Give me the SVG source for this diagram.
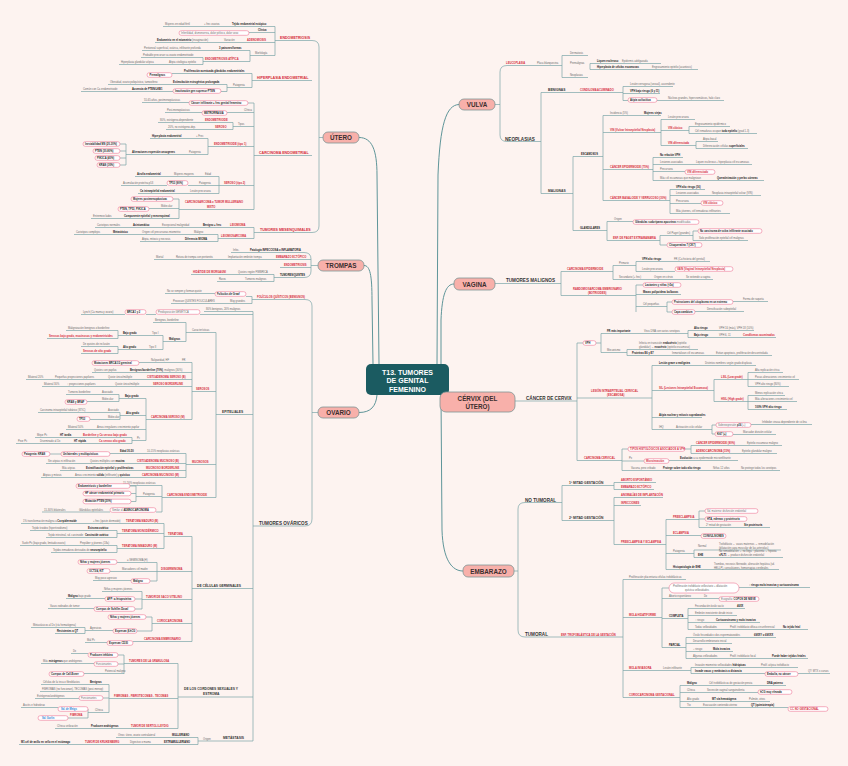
<svg xmlns="http://www.w3.org/2000/svg" width="848" height="766" viewBox="0 0 848 766">
<style>
text{font-family:"Liberation Sans",Arial,sans-serif;font-size:2.6px;fill:#6a6a6a;dominant-baseline:central}
.k{font-weight:bold;fill:#222}
.r{font-weight:bold;fill:#d52b3b;font-size:2.7px}
.R{font-weight:bold;fill:#d52b3b;font-size:3.6px}
.h{font-weight:bold;fill:#333;font-size:4.6px}
.h2{font-weight:bold;fill:#333;font-size:3.3px}
.bl{font-weight:bold;fill:#2f86d6}
.bx{fill:#fff;stroke:#ef7a99;stroke-width:0.6}
.ln{fill:none;stroke:#7aa5a8;stroke-width:0.7}
.lm{fill:none;stroke:#5f9599;stroke-width:1}
.mn{fill:#f8b0aa;stroke:#7d9494;stroke-width:0.8}
.mt{font-weight:bold;font-size:6.3px;fill:#3b2e2e;text-anchor:middle}
.ct{font-weight:bold;font-size:7px;fill:#fff;text-anchor:middle}
</style>
<rect width="848" height="766" fill="#fdf3f0"/>
<g id="connectors">
<path class="lm" d="M359,137.5C372,137.5 377,150 377,175L379,364M364,265.5C370,265.5 372,275 372,300L373,364M359,412.5C371,412.5 376,406 377,395M459,104.5C446,105 440,125 438,175L437,364M454,284C446,284 442,295 441,320L441,364M441,395L442,530C443,560 452,571 463,571"/>
<path class="ln" d="M323,137.5H319M312,40.5Q319,40.5 319,47V226Q319,232.5 312,232.5M275,40.5H312M275,26.5V55.5M163,26.5H275M249,32.5H275M155,42.5H275M250,55.5H275M250,50.5V61.5M142,50.5H250M203,61.5H250M203,57.5V64.5M141,57.5H203M119,64.5H203M252,80.5H312M252,73.5V87.5M172,73.5H252M227,87.5H252M227,84.5V91.5M108,84.5H227M81,91.5H173M221,91.5H227M254,155.5H312M254,103V209.5M142,102.5H189M248,103H254M165,112.5H202M227,112.5H254M233,126.5H254M233,122.5V129.5M158,122.5H233M166,129.5H233M208,146.5H254M208,138.5V154.5M150,138.5H208M126,154.5H208M126,144V165M120,144H126M120,151H126M120,158H126M120,165H126M219,185.5H254M219,176.5V193.5M135,176.5H219M121,185.5H167M188,185.5H219M138,193.5H219M179,209.5H254M179,199V218.5M173,199H179M149,208.5H179M91,218.5H179M254,232.5H312M254,227.5V238.5M95,227.5H254M218,238.5H254M218,234.5V241.5M74,234.5H218M140,241.5H218"/>
<path class="ln" d="M318,265.5H311M304,252.5Q311,252.5 311,259V271Q311,277.5 304,277.5M231,252.5H304M154,259.5H311M280,267.5H311M274,277.5H304M274,274.5V281.5M191,274.5H274M217,281.5H274"/>
<path class="ln" d="M318,412.5H312M305,299.5Q312,299.5 312,306V519Q312,526 305,526M252,299.5H305M252,296.5V303.5M165,293.5H215M246,296.5H252M171,303.5H252M253,526H305M253,311.5V741M204,311.5H253M81,314.5H125M146,314.5H156M200,314.5H253M216,414.5H253M216,332.5V497.5M186,332.5H216M186,322.5V341.5M153,322.5H186M163,341.5H186M163,335.5V349.5M118,335.5H163M118,330.5V338.5M66,330.5H118M47,338.5H118M118,349.5H163M118,346.5V353.5M81,346.5H118M81,353.5H118M192,391.5H216M192,362.5V419.5M139,362.5H192M92,372.5H192M26,379.5H192M42,386.5H192M146,419.5H192M146,398.5V440.5M119,398.5H146M119,394.5V401.5M66,394.5H119M87,401.5H119M120,415.5H146M120,412.5V419.5M38,412.5H120M90,419.5H120M66,429.5H146M132,440.5H146M132,437.5V443.5M35,437.5H132M16,443.5H132M186,464.5H216M186,453.5V477.5M110,453.5H186M50,454H61M46,463.5H186M60,470.5H186M41,477.5H186M162,497.5H216M162,485.5V512M121,485.5H162M136,496.5H162M136,486V501.5M130,486H136M131,493.5H136M131,501.5H136M42,512H110M156,512H162M192,588.5H253M192,536.5V641.5M164,536.5H192M164,523.5V548.5M21,523.5H164M117,533.5H164M117,530.5V537.5M30,530.5H117M46,537.5H117M117,548.5H164M117,545.5V552.5M20,545.5H117M51,552.5H117M157,571.5H192M157,562.5V581M117,562.5H157M110,571.5H157M150,581H157M93,580.5H131M142,599.5H192M142,591.5V609M102,591.5H142M135,599H142M66,598.5H105M135,609H142M48,608.5H94M152,623.5H192M152,617V631M146,617H152M137,631H152M85,630.5H113M85,627.5V633.5M31,627.5H85M55,633.5H85M133,641.5H192M85,642.5H107M178,697H253M178,663.5V728.5M124,663.5H178M124,655V674M118,655H124M71,653.5H88M118,664H124M41,663.5H94M84,673.5H124M109,698.5H178M109,684.5V712.5M41,684.5H109M40,691.5H109M103,698H109M35,698.5H79M88,712.5H109M88,709V718M21,707.5H58M68,718H88M55,728.5H178M198,741H253M198,737.5V744.5M116,737.5H198M19,744.5H198"/>
<path class="ln" d="M495,104.5H500M507,65.5Q500,65.5 500,72V135Q500,141.5 507,141.5M507,65.5H562M562,55.5V77.5M562,55.5H588M590,63.5V69.5M590,63.5H661M590,69.5H698M562,77.5H588M507,141.5H541M541,92.5V193.5M541,92.5H623M623,86.5V100.5M623,86.5H673M623,93.5H660M623,100.5H628M657,100.5H724M541,193.5H573M573,156.5V230.5M573,156.5H603M603,115.5V200.5M603,115.5H661M603,132.5H661M661,119.5V145.5M661,119.5H695M661,130.5H689M689,126.5V133.5M689,126.5H730M689,133.5H757M661,145.5H696M696,141.5V148.5M696,141.5H718M696,148.5H748M603,169.5H653M653,157.5V180.5M653,157.5H683M653,164.5H752M653,171.5H685M653,180.5H764M603,200.5H670M670,189.5V213.5M670,189.5H705M670,195.5H761M670,203.5H701M670,213.5H730M573,230.5H607M607,221.5V240.5M607,221.5H633M607,240.5H660M660,235.5V245M660,235.5H693M693,231V240.5M693,231H698M693,240.5H748M660,245H667"/>
<path class="ln" d="M495,283.5H561M561,271.5V295.5M561,271.5H613M613,265.5V279.5M613,265.5H636M636,261.5V271.5M636,261.5H710M636,271.5H675M613,279.5H713M561,295.5H636M636,285V312M636,285H643M636,294.5H681M636,306.5H667M667,302V312M667,302H672M733,301.5H768M667,312H672M695,311.5H744"/>
<path class="ln" d="M515,401H577M577,343V460.5M577,343H583M596,343H601M601,333.5V352.5M601,333.5H688M688,330.5V337.5M688,330.5H754M688,337.5H776M601,352.5H627M627,349.5V355.5M627,349.5H698M627,355.5H772M577,398H652M652,365.5V429.5M652,365.5H756M652,390.5H714M714,379.5V401.5M714,379.5H748M748,372.5V386.5M748,372.5H783M748,379.5H799M748,386.5H789M714,401.5H748M748,395.5V409.5M748,395.5H785M748,401.5H797M748,409.5H787M652,417.5H702M652,429.5H712M712,425V434M712,425H716M751,424.5H812M712,434H715M733,434.5H776M577,460.5H622M622,449V470.5M622,449H628M685,449H691M691,445.5V453.5M691,445.5H782M691,453.5H777M622,461H644M669,460.5H738M622,470.5H780"/>
<path class="ln" d="M514,571H518M525,502.5Q518,502.5 518,509V630Q518,637 525,637M525,502.5H562M562,485.5V520.5M562,485.5H614M614,482.5V489.5M614,482.5H656M614,489.5H654M562,520.5H614M614,497.5V544.5M614,497.5H663M614,505.5H641M614,544.5H666M666,519.5V569.5M666,519.5H699M699,511V527.5M699,511H705M699,519H705M699,527.5H770M666,535.5H701M666,553.5H694M694,550V557.5M694,550H781M694,557.5H783M666,569.5H779M525,637H623M623,579.5V697.5M623,579.5H686M623,617.5H662M662,588V647.5M662,588H669M739,587.5H810M662,598.5H719M662,618.5H688M688,608.5V629.5M688,608.5H745M688,615.5H737M688,622.5H760M688,629.5H808M662,647.5H686M686,637.5V658.5M686,637.5H776M686,643.5H732M686,651.5H733M686,658.5H808M623,670.5H691M691,667.5V673.5M691,667.5H798M691,673.5H765M798,673.5H830M623,697.5H680M680,685.5V707.5M680,685.5H786M680,692.5H758M680,701.5H770M680,707.5H788"/>
</g>
<g id="center"><rect x="366" y="364" width="83" height="31" rx="5" fill="#1b5b61"/><text class="ct" x="407.5" y="372">T13. TUMORES</text><text class="ct" x="407.5" y="380.5">DE GENITAL</text><text class="ct" x="407.5" y="389">FEMENINO</text></g>
<g id="n-utero"><rect class="mn" x="323" y="132" width="36" height="11" rx="5"/><text class="mt" x="341" y="137.8">ÚTERO</text></g>
<g id="n-trompas"><rect class="mn" x="318" y="260" width="46" height="11" rx="5"/><text class="mt" x="341" y="265.8">TROMPAS</text></g>
<g id="n-ovario"><rect class="mn" x="318" y="407" width="41" height="11" rx="5"/><text class="mt" x="338.5" y="412.8">OVARIO</text></g>
<g id="n-vulva"><rect class="mn" x="459" y="99" width="36" height="11" rx="5"/><text class="mt" x="477" y="104.8">VULVA</text></g>
<g id="n-vagina"><rect class="mn" x="454" y="278" width="41" height="12" rx="5"/><text class="mt" x="474.5" y="284.3">VAGINA</text></g>
<g id="n-cervix"><rect class="mn" x="440" y="392" width="75" height="20" rx="6"/><text class="mt" x="477.5" y="398.3">CÉRVIX (DEL</text><text class="mt" x="477.5" y="406.3">ÚTERO)</text></g>
<g id="n-embarazo"><rect class="mn" x="463" y="565" width="51" height="12" rx="5"/><text class="mt" x="488.5" y="571.3">EMBARAZO</text></g>
<g id="b-utero">
<text class="R" x="280" y="38">ENDOMETRIOSIS</text>
<text x="165" y="24">Mujeres en edad fértil</text><text x="204" y="24">+ frec ovarios</text><text class="k" x="232" y="24">Tejido endometrial ectópico</text>
<text class="k" x="258" y="30">Clínica</text>
<rect class="bx" x="179" y="30.7" width="70" height="4.6" rx="2.3"/><text x="181" y="33">Infertilidad, dismenorrea, dolor pélvico, dolor sexo</text>
<text x="157" y="40"><tspan class="k">Endometrio en el miometrio</tspan> (invaginación)</text><text x="224" y="40">Variación</text><text class="r" x="247" y="40">ADENOMIOSIS</text>
<text x="144" y="48">Peritoneal superficial, ovárica, infiltrante profunda</text><text class="k" x="219" y="48">3 patrones/formas</text>
<text x="255" y="53">Morfología</text>
<text x="143" y="55">Probable precursor ca ovario endometrioide</text>
<text class="r" x="205" y="59">ENDOMETRIOSIS ATÍPICA</text>
<text x="121" y="62">Hiperplasia glandular atípica</text><text x="169" y="62">Atipia citológica epitelio</text>
<text class="R" x="257" y="78">HIPERPLASIA ENDOMETRIAL</text>
<text class="k" x="184" y="71">Proliferación acentuada glándulas endometriales</text>
<rect class="bx" x="147" y="72.7" width="25" height="4.6" rx="2.3"/><text class="k" x="149.5" y="75">Premalignos</text>
<text x="110" y="82">Obesidad, ovario poliquístico, tamoxifeno</text><text class="k" x="173" y="82">Estimulación estrogénica prolongada</text>
<text x="233" y="85">Patogenia</text>
<text x="83" y="89">Común con Ca endometrioide</text><text class="k" x="132" y="89">Ausencia de PTEN/LKB1</text>
<rect class="bx" x="173" y="88.7" width="48" height="4.6" rx="2.3"/><text class="k" x="175" y="91">Inactivación gen supresor PTEN</text>
<text class="R" x="259" y="153">CARCINOMA ENDOMETRIAL</text>
<text x="144" y="100">55-65 años, postmenopáusicas</text>
<rect class="bx" x="189" y="100.7" width="59" height="4.6" rx="2.3"/><text class="k" x="191" y="103">Cáncer infiltrante + frec genital femenino</text>
<text x="167" y="110">Post-menopáusicas</text>
<rect class="bx" x="202" y="110.7" width="25" height="4.6" rx="2.3"/><text class="k" x="204" y="113">METRORRAGIA</text>
<text x="244" y="110">Clínica</text>
<text x="160" y="120">80%, estrógeno-dependiente</text><text class="r" x="205" y="120">ENDOMETRIOIDE</text>
<text x="168" y="127">20%, no estrógeno-dep.</text><text class="r" x="215" y="127">SEROSO</text>
<text x="238" y="124">Tipos</text>
<text class="k" x="152" y="136">Hiperplasia endometrial</text><text x="196" y="136">+ Frec</text>
<text class="r" x="214" y="144">ENDOMETRIOIDE (tipo 1)</text>
<text class="k" x="132" y="152">Alteraciones expresión oncogenes</text><text x="189" y="152">Patogenia</text>
<rect class="bx" x="83" y="141.7" width="37" height="4.6" rx="2.3"/><text class="k" x="85" y="144">Inestabilidad MS (20-30%)</text>
<rect class="bx" x="93" y="148.7" width="27" height="4.6" rx="2.3"/><text class="k" x="95" y="151">PTEN (30-80%)</text>
<rect class="bx" x="95" y="155.7" width="25" height="4.6" rx="2.3"/><text class="k" x="97" y="158">PIK3CA (40%)</text>
<rect class="bx" x="97" y="162.7" width="23" height="4.6" rx="2.3"/><text class="k" x="99" y="165">KRAS (30%)</text>
<text class="k" x="137" y="174">Atrofia endometrial</text><text x="174" y="174">Mujeres mayores</text><text x="205" y="174">Edad</text>
<text x="123" y="183">Acumulación proteína p53</text>
<rect class="bx" x="167" y="180.7" width="21" height="4.6" rx="2.3"/><text class="k" x="169" y="183">TP53 (90%)</text>
<text x="199" y="183">Patogenia</text>
<text class="r" x="224" y="183">SEROSO (tipo 2)</text>
<text class="k" x="140" y="191">Ca intraepitelial endometrial</text><text x="190" y="191">Lesión precursora</text>
<text class="r" x="185" y="202">CARCINOSARCOMA o TUMOR MULLERIANO</text><text class="r" x="207" y="207">MIXTO</text>
<rect class="bx" x="131" y="196.7" width="42" height="4.6" rx="2.3"/><text class="k" x="133" y="199">Mujeres postmenopáusicas</text>
<text x="161" y="206">Molecular</text>
<rect class="bx" x="118" y="206.7" width="31" height="4.6" rx="2.3"/><text class="k" x="120" y="209">PTEN, TP53, PIK3CA</text>
<text x="93" y="216">Entremezclados</text><text class="k" x="124" y="216">Componente epitelial y mesenquimal</text>
<text class="R" x="260" y="230">TUMORES MESENQUIMALES</text>
<text x="97" y="225">Cariotipos normales</text><text class="k" x="133" y="225">Asintomático</text><text x="162" y="225">Excepcional malignidad</text><text class="k" x="203" y="225">Benigno + frec</text><text class="r" x="230" y="225">LEIOMIOMA</text>
<text x="76" y="232">Cariotipos complejos</text><text class="k" x="113" y="232">Metastásico</text><text x="142" y="232">Origen cél precursoras miometrio</text><text x="194" y="232">Maligno</text>
<text x="142" y="239">Atipia, mitosis y necrosis</text><text class="k" x="185" y="239">Diferencia MIOMA</text>
<text class="r" x="221" y="236">LEIOMIOSARCOMA</text>
</g>
<g id="b-trompas">
<text x="233" y="250">Infec.</text><text class="k" x="250" y="250">Patología INFECCIOSA o INFLAMATORIA</text>
<text x="156" y="257">Mortal</text><text x="176" y="257">Rotura de trompa con peritonitis</text><text x="228" y="257">Implantación embrión trompa</text><text class="r" x="276" y="257">EMBARAZO ECTÓPICO</text>
<text class="r" x="284" y="265">ENDOMETRIOSIS</text>
<text class="r" x="193" y="272">HIDÁTIDE DE MORGAGNI</text><text x="238" y="272">Quistes región FÍMBRICA</text>
<text class="k" x="280" y="275">TUMORES/QUISTES</text>
<text x="219" y="279">Raros</text><text x="245" y="279">Tumores malignos</text>
</g>
<g id="b-ovario">
<text class="r" x="257" y="297">FOLÍCULOS QUÍSTICOS (BENIGNOS)</text>
<text x="167" y="291">No se rompen y forman quiste</text>
<rect class="bx" x="215" y="291.7" width="31" height="4.6" rx="2.3"/><text class="k" x="217" y="294">Folículos de Graaf</text>
<text x="173" y="301">Provocan QUISTES FOLICULARES</text><text x="230" y="301">Muy grandes</text>
<text class="h" x="259" y="523">TUMORES OVÁRICOS</text>
<text x="206" y="309">80% benignos, 20% malignos</text>
<text x="83" y="312">Lynch (Ca mama y ovario)</text>
<rect class="bx" x="125" y="309.7" width="21" height="4.6" rx="2.3"/><text class="k" x="127" y="312">BRCA1 y 2</text>
<rect class="bx" x="156" y="309.7" width="44" height="4.6" rx="2.3"/><text x="158" y="312">Predisposición GENÉTICA</text>
<text class="h2" x="222" y="412">EPITELIALES</text>
<text x="192" y="330">Características</text>
<text x="155" y="320">Benignos, borderline</text>
<text class="k" x="169" y="339">Malignos</text>
<text x="152" y="333">Tipo I</text><text class="k" x="123" y="333">Bajo grado</text>
<text x="68" y="328">Malignización benignos o borderline</text>
<text class="r" x="49" y="336">Serosos bajo grado, mucinosos y endometrioides</text>
<text x="149" y="347">Tipo II</text><text class="k" x="123" y="347">Alto grado</text>
<text x="83" y="344">De quistes de inclusión</text>
<text class="r" x="83" y="351">Serosos de alto grado</text>
<text class="r" x="196" y="389">SEROSOS</text>
<rect class="bx" x="92" y="360.7" width="47" height="4.6" rx="2.3"/><text class="k" x="94" y="363">Mutaciones BRCA1/2 germinal</text>
<text x="151" y="360">Nuliparidad, HF</text><text x="182" y="360">FR</text>
<text x="94" y="370">Quistes con papilas</text><text x="130" y="370"><tspan class="k">Benignos/borderline (70%)</tspan>, malignos (30%)</text>
<text x="28" y="377">Bilateral 20%</text><text x="55" y="377">Pequeñas proyecciones papilares</text><text x="108" y="377">Quiste único/múltiple</text><text class="r" x="147" y="377">CISTOADENOMA SEROSO (B)</text>
<text x="44" y="384">Bilateral 30%</text><text x="67" y="384">↑ proyecciones papilares</text><text x="115" y="384">Quiste único/múltiple</text><text class="r" x="153" y="384">SEROSO BORDERLINE</text>
<text class="r" x="151" y="417">CARCINOMA SEROSO (M)</text>
<text class="k" x="125" y="396">Bajo grado</text>
<text x="68" y="392">Tumores borderline</text><text x="102" y="392">Asociado</text>
<text x="102" y="399">Molecular</text>
<rect class="bx" x="65" y="399.7" width="22" height="4.6" rx="2.3"/><text class="k" x="67" y="402">KRAS y BRAF</text>
<text class="k" x="126" y="413">Alto grado</text>
<text x="40" y="410">Carcinoma intraepitelial tubárico (STIC)</text><text x="108" y="410">Asociado</text>
<text x="108" y="417">Molecular</text>
<rect class="bx" x="77" y="416.7" width="13" height="4.6" rx="2.3"/><text class="k" x="79" y="419">TP53</text>
<text x="68" y="427">Bilateral 50%</text><text x="97" y="427">Áreas irregulares crecimiento papilar</text>
<text x="137" y="438">Pc</text>
<text x="37" y="435">Mejor Pc</text><text class="k" x="60" y="435">HT tardía</text><text class="r" x="83" y="435">Borderline y Ca seroso bajo grado</text>
<text x="18" y="441">Peor Pc</text><text x="40" y="441">Diseminado al Dx</text><text class="k" x="74" y="441">HT rápida</text><text class="r" x="99" y="441">Ca seroso alto grado</text>
<text class="r" x="192" y="462">MUCINOSOS</text>
<rect class="bx" x="22" y="451.7" width="28" height="4.6" rx="2.3"/><text class="k" x="24" y="454">Patogenia: KRAS</text>
<rect class="bx" x="61" y="451.7" width="49" height="4.6" rx="2.3"/><text class="k" x="63" y="454">Unilaterales y multiquísticos</text>
<text class="k" x="120" y="451">Edad 30-50</text><text x="147" y="451">10-15% neoplasias ováricas</text>
<text x="48" y="461">Sin atipias ni infiltración</text><text x="90" y="461">Quistes múltiples con <tspan class="k">mucina</tspan></text><text class="r" x="137" y="461">CISTOADENOMA MUCINOSO (B)</text>
<text x="62" y="468">Más atipias</text><text class="k" x="86" y="468">Estratificación epitelial y proliferativas</text><text class="r" x="146" y="468">MUCINOSO BORDERLINE</text>
<text x="43" y="475">Atipias y mitosis</text><text x="75" y="475">Áreas crecimiento <tspan class="k">sólido</tspan> (infiltrante) y <tspan class="k">quístico</tspan></text><text class="r" x="142" y="475">CARCINOMA MUCINOSO (M)</text>
<text class="r" x="167" y="495">CARCINOMA ENDOMETRIOIDE</text>
<text x="123" y="483">15-20% neoplasias ováricas</text>
<text x="143" y="494">Patogenia</text>
<rect class="bx" x="76" y="483.7" width="54" height="4.6" rx="2.3"/><text class="k" x="78" y="486">Endometriosis y borderline</text>
<rect class="bx" x="83" y="491.2" width="48" height="4.6" rx="2.3"/><text class="k" x="85" y="493.5">HF cáncer endometrial primario</text>
<rect class="bx" x="83" y="499.2" width="48" height="4.6" rx="2.3"/><text class="k" x="85" y="501.5">Mutación PTEN (20%)</text>
<text x="44" y="510">15-30% bilaterales</text><text x="79" y="510">Glándulas epiteliales</text>
<rect class="bx" x="110" y="507.7" width="46" height="4.6" rx="2.3"/><text x="112" y="510">Similar al <tspan class="k">ADENOCARCINOMA</tspan></text>
<text class="h2" x="197" y="586">DE CÉLULAS GERMINALES</text>
<text class="r" x="168" y="534">TERATOMA</text>
<text x="23" y="521">1% transformación maligna a <tspan class="k">Ca epidermoide</tspan></text><text x="93" y="521">+ frec (quiste dermoide)</text><text class="r" x="126" y="521">TERATOMA MADURO (B)</text>
<text class="r" x="122" y="531">TERATOMA MONODÉRMICO</text>
<text x="32" y="528">Tejido tiroideo (hipertiroidismo)</text><text class="k" x="88" y="528">Estruma ovárico</text>
<text x="48" y="535">Tejido intestinal, sd. carcinoide</text><text class="k" x="85" y="535">Carcinoide ovárico</text>
<text class="r" x="122" y="546">TERATOMA INMADURO (M)</text>
<text x="22" y="543">Suele Px (bajo grado, limitado ovario)</text><text x="80" y="543">Prepúber y jóvenes (18a)</text>
<text x="53" y="550">Tejidos inmaduros derivados de <tspan class="k">neuroepitelio</tspan></text>
<text class="r" x="161" y="569">DISGERMINOMA</text>
<rect class="bx" x="78" y="559.7" width="39" height="4.6" rx="2.3"/><text class="k" x="80" y="562">Niñas y mujeres jóvenes</text>
<text x="127" y="560">= SEMINOMA (H)</text>
<text x="122" y="569">Marcadores cél madre</text>
<rect class="bx" x="87" y="568.7" width="23" height="4.6" rx="2.3"/><text class="k" x="89" y="571">OCT3/4, KIT</text>
<text x="95" y="578">Muy poco agresivo</text>
<rect class="bx" x="131" y="578.7" width="19" height="4.6" rx="2.3"/><text class="k" x="133" y="581">Maligno</text>
<text class="r" x="146" y="597">TUMOR DE SACO VITELINO</text>
<text x="104" y="589">Niñas y mujeres jóvenes</text>
<text x="68" y="596"><tspan class="k">Maligno</tspan> bajo grado</text>
<rect class="bx" x="105" y="596.7" width="30" height="4.6" rx="2.3"/><text class="k" x="107" y="599">AFP: α-fetoproteína</text>
<text x="50" y="606">Vasos rodeados de tumor</text>
<rect class="bx" x="94" y="606.7" width="41" height="4.6" rx="2.3"/><text class="k" x="96" y="609">Cuerpos de Schiller-Duval</text>
<text class="r" x="157" y="621">CORIOCARCINOMA</text>
<rect class="bx" x="108" y="614.7" width="38" height="4.6" rx="2.3"/><text class="k" x="110" y="617">Niñas y mujeres jóvenes</text>
<text x="33" y="625">Metastásicos al Dx (vía hematógena)</text>
<text x="90" y="628">Agresivos</text>
<text class="k" x="57" y="631">Resistentes a QT</text>
<rect class="bx" x="113" y="628.7" width="24" height="4.6" rx="2.3"/><text class="k" x="115" y="631">Expresan β-hCG</text>
<text class="r" x="144" y="639">CARCINOMA EMBRIONARIO</text>
<text x="87" y="640">Mal Pc</text>
<rect class="bx" x="107" y="640.7" width="26" height="4.6" rx="2.3"/><text class="k" x="109" y="643">Expresan CD30</text>
<text class="h2" x="184" y="689">DE LOS CORDONES SEXUALES Y</text><text class="h2" x="203" y="694">ESTROMA</text>
<text class="r" x="129" y="661">TUMORES DE LA GRANULOSA</text>
<text x="73" y="651">Dx</text>
<rect class="bx" x="88" y="652.7" width="30" height="4.6" rx="2.3"/><text class="k" x="90" y="655">Producen inhibina</text>
<text x="43" y="661">Más <tspan class="k">estrógenos</tspan> que andrógenos</text>
<rect class="bx" x="94" y="661.7" width="24" height="4.6" rx="2.3"/><text x="96" y="664">Funcionantes</text>
<text x="105" y="671">Potencial maligno</text>
<rect class="bx" x="49" y="671.7" width="35" height="4.6" rx="2.3"/><text class="k" x="51" y="674">Cuerpos de Call-Exner</text>
<text class="r" x="114" y="696">FIBROMAS - FIBROTECOMAS - TECOMAS</text>
<text x="43" y="682">Células de la teca o fibroblastos</text><text class="k" x="90" y="682">Benignos</text>
<text x="42" y="689">FIBROMAS (no funcionan), TECOMAS (post-menop)</text>
<text x="37" y="696">Estrógenos/andrógenos</text>
<rect class="bx" x="79" y="695.7" width="24" height="4.6" rx="2.3"/><text x="81" y="698">Funcionantes</text>
<text x="95" y="710">Clínica</text>
<text x="23" y="705">Ascitis e hidrotórax</text>
<rect class="bx" x="58" y="706.7" width="30" height="4.6" rx="2.3"/><text class="bl" x="61" y="709">Sd. de Meigs</text>
<text class="r" x="70" y="715">FIBROMA</text>
<rect class="bx" x="38" y="715.7" width="30" height="4.6" rx="2.3"/><text class="bl" x="42" y="718">Sd. Gorlin</text>
<text x="57" y="726">Clínica virilización</text><text class="k" x="91" y="726">Producen andrógenos</text><text class="r" x="131" y="726">TUMOR DE SERTOLI-LEYDIG</text>
<text class="h2" x="223" y="738">METÁSTASIS</text>
<text x="203" y="739">Origen</text>
<text x="118" y="735">Otros: útero, ovario contralateral</text><text class="k" x="172" y="735">MULLERIANO</text>
<text class="k" x="21" y="742">M1 cél de anillo en sello en el estómago</text><text class="r" x="85" y="742">TUMOR DE KRUKENBERG</text><text x="130" y="742">Digestivo o mama</text><text class="k" x="164" y="742">EXTRAMULLERIANO</text>
</g>
<g id="b-vulva">
<text class="r" x="506" y="63">LEUCOPLASIA</text><text x="537" y="63">Placa blanquecina</text>
<text x="570" y="53">Dermatosis</text>
<text x="570" y="63">Premalignas</text>
<text class="k" x="597" y="61">Liquen escleroso</text><text x="622" y="61">Epidermis adelgazada</text>
<text class="k" x="597" y="67">Hiperplasia de células escamosas</text><text x="652" y="67">Engrosamiento epitelio (acantosis)</text>
<text x="570" y="75">Neoplasias</text>
<text class="h" x="505" y="139">NEOPLASIAS</text>
<text class="h2" x="548" y="90">BENIGNAS</text><text class="r" x="580" y="90">CONDILOMA ACUMINADO</text>
<text x="630" y="84">Lesión verrugosa (sexual), ascendente</text>
<text class="k" x="630" y="91">VPH bajo riesgo (6 y 11)</text>
<rect class="bx" x="628" y="97.7" width="29" height="4.6" rx="2.3"/><text class="k" x="630" y="100">Atipia coilocítica</text>
<text x="668" y="98">Núcleos grandes, hipercromáticos, halo claro</text>
<text class="h2" x="548" y="191">MALIGNAS</text>
<text class="k" x="581" y="154">ESCAMOSOS</text>
<text x="610" y="113">Incidencia (5%)</text><text class="k" x="644" y="113">Mujeres viejas</text>
<text class="r" x="610" y="130">VIN (Vulvar Intraepitelial Neoplasia)</text>
<text x="668" y="117">Lesión precursora</text>
<text class="r" x="668" y="128">VIN clásico</text>
<text x="695" y="124">Engrosamiento epidérmico</text>
<text x="695" y="131">Cél inmaduras ocupan <tspan class="k">todo epitelio</tspan> (grad 1-3)</text>
<text class="r" x="668" y="143">VIN diferenciada</text>
<text x="703" y="139">Atipia basal</text>
<text x="703" y="146">Diferenciación células <tspan class="k">superficiales</tspan></text>
<text class="r" x="610" y="167">CÁNCER EPIDERMOIDE (75%)</text>
<text class="k" x="660" y="155">No relación VPH</text>
<text x="660" y="162">Lesiones asociadas</text><text x="696" y="162">Liquen escleroso + hiperplasia cél escamosas</text>
<text x="660" y="169">Precursora</text>
<rect class="bx" x="685" y="169.7" width="30" height="4.6" rx="2.3"/><text class="r" x="687" y="172">VIN diferenciado</text>
<text x="660" y="178">Más cél escamosas que malignizan</text><text class="k" x="717" y="178">Queratinización y perlas córneas</text>
<text class="r" x="610" y="198">CÁNCER BASALOIDE Y VERRUCOSO (30%)</text>
<text class="k" x="676" y="187">VPH alto riesgo (16)</text>
<text x="676" y="193">Lesiones asociadas</text><text x="712" y="193">Neoplasia intraepitelial vulvar (VIN)</text>
<text x="676" y="201">Precursora</text>
<rect class="bx" x="701" y="200.7" width="22" height="4.6" rx="2.3"/><text class="r" x="703" y="203">VIN clásico</text>
<text x="676" y="211">Más jóvenes, cél inmaduras infiltrantes</text>
<text class="k" x="580" y="228">GLANDULARES</text>
<text x="614" y="219">Origen</text>
<rect class="bx" x="633" y="219.7" width="66" height="4.6" rx="2.3"/><text x="635" y="222"><tspan class="k">Glándulas sudoríparas apocrinas</tspan> modificadas</text>
<text class="r" x="613" y="238">ENF. DE PAGET EXTRAMAMARIA</text>
<text x="667" y="233">Cél Paget (grandes)</text>
<rect class="bx" x="698" y="228.7" width="64" height="4.6" rx="2.3"/><text class="k" x="700" y="231">No carcinoma de vulva infiltrante asociado</text>
<text x="699" y="238">Solo proliferación epitelial cél malignas</text>
<rect class="bx" x="667" y="242.7" width="35" height="4.6" rx="2.3"/><text class="k" x="669" y="245">Citoqueratina 7 (CK7)</text>
</g>
<g id="b-vagina">
<text class="h" x="506" y="280">TUMORES MALIGNOS</text>
<text class="r" x="567" y="269">CARCINOMA EPIDERMOIDE</text>
<text x="619" y="263">Primario</text>
<text class="k" x="642" y="259">VPH alto riesgo</text><text x="674" y="259">FR (Ca historia del genital)</text>
<text x="642" y="269">Lesión precursora</text>
<rect class="bx" x="675" y="266.7" width="58" height="4.6" rx="2.3"/><text class="r" x="677" y="269">VAIN (Vaginal Intraepitelial Neoplasia)</text>
<text x="619" y="277">Secundario (+ frec)</text><text x="654" y="277">Origen en cérvix</text><text x="686" y="277">Se extiende a vagina</text>
<text class="r" x="573" y="289">RABDOMIOSARCOMA EMBRIONARIO</text><text class="r" x="588" y="293">(BOTRIOIDES)</text>
<rect class="bx" x="643" y="282.7" width="38" height="4.6" rx="2.3"/><text class="k" x="645" y="285">Lactantes y niñas (&lt;5a)</text>
<text class="k" x="643" y="292">Masas polipoideas bulbosas</text>
<text x="643" y="304">Cél pequeñas</text>
<rect class="bx" x="672" y="299.7" width="61" height="4.6" rx="2.3"/><text class="k" x="674" y="302">Protrusiones del citoplasma en un extremo</text>
<text x="743" y="299">Forma de raqueta</text>
<rect class="bx" x="672" y="309.7" width="23" height="4.6" rx="2.3"/><text class="k" x="674" y="312">Capa cambium</text>
<text x="707" y="309">Densificación subepitelial</text>
</g>
<g id="b-cervix">
<text class="h" x="526" y="398">CÁNCER DE CERVIX</text>
<rect class="bx" x="583" y="340.7" width="13" height="4.6" rx="2.3"/><text class="k" x="585" y="343">VPH</text>
<text class="k" x="607" y="331">FR más importante</text><text x="644" y="331">Virus DNA con varios serotipos</text>
<text class="k" x="694" y="328">Alto riesgo</text><text x="719" y="328">VPH 16 (más), VPH 18 (10%)</text>
<text class="k" x="694" y="335">Bajo riesgo</text><text x="719" y="335">VPH 6, 11</text><text class="r" x="743" y="335">Condilomas acuminados</text>
<text x="607" y="350">Mecanismo</text>
<text x="639" y="343">Infecta en transición <tspan class="k">endocérvix</tspan> (epitelio</text>
<text x="639" y="347">glandular) → <tspan class="k">exocérvix</tspan> (epitelio escamoso)</text>
<text class="k" x="632" y="353">Proteínas E6 y E7</text><text x="672" y="353">Inmortalizan cél escamosas</text><text x="716" y="353">Evitan apoptosis, proliferación descontrolada</text>
<text class="r" x="591" y="391">LESIÓN INTRAEPITELIAL CERVICAL</text><text class="r" x="607" y="395">(ESCAMOSA)</text>
<text class="k" x="659" y="363">Lesión grave o maligniza</text><text x="705" y="363">Distintos nombres según grado displasia</text>
<text class="r" x="659" y="388">SIL (Lesiones Intraepitelial Escamosa)</text>
<text class="r" x="721" y="377">LSIL (Low grade)</text>
<text x="755" y="370">Alta replicación vírica</text>
<text x="755" y="377">Pocas alteraciones crecimiento cel</text>
<text x="755" y="384">VPH alto riesgo (80%)</text>
<text class="r" x="721" y="399">HSIL (High grade)</text>
<text x="755" y="393">Menos replicación vírica</text>
<text x="755" y="399">Más alteraciones crecimiento cel</text>
<text class="k" x="755" y="407">100% VPH alto riesgo</text>
<text class="k" x="659" y="415">Atipia nuclear y mitosis suprabasales</text>
<text x="659" y="427">IHQ</text><text x="676" y="427">Activación ciclo celular</text>
<rect class="bx" x="716" y="422.7" width="35" height="4.6" rx="2.3"/><text x="718" y="425">Sobreexpresión <tspan class="k">p16</tspan> (+)</text>
<text x="762" y="422">Inhibidor cinasa dependiente de ciclina</text>
<rect class="bx" x="715" y="431.7" width="18" height="4.6" rx="2.3"/><text class="k" x="717" y="434">Ki67 (+)</text>
<text x="743" y="432">Marcador división celular</text>
<text class="r" x="584" y="458">CARCINOMA CERVICAL</text>
<rect class="bx" x="628" y="446.7" width="57" height="4.6" rx="2.3"/><text class="r" x="630" y="449" font-size="2.3">TIPOS HISTOLÓGICOS ASOCIADOS A VPH</text>
<text class="r" x="696" y="443">CÁNCER EPIDERMOIDE (80%)</text><text x="747" y="443">Epitelio escamoso maligno</text>
<text class="r" x="696" y="451">ADENOCARCINOMA (15%)</text><text x="742" y="451">Epitelio glandular maligno</text>
<text x="629" y="458">Px</text>
<rect class="bx" x="644" y="458.7" width="25" height="4.6" rx="2.3"/><text class="r" x="646" y="461">Microinvasión</text>
<text x="680" y="458"><tspan class="k">Evolución</tspan> a ca epidermoide microinfiltrante</text>
<text x="631" y="468">Vacuna, pero cribado</text><text class="k" x="663" y="468">Protege sobre todo alto riesgo</text><text x="713" y="468">Niñas 12 años</text><text x="741" y="468">No protege todos los serotipos</text>
</g>
<g id="b-embarazo">
<text class="h" x="525" y="500">NO TUMORAL</text>
<text class="h2" x="569" y="483">1ª MITAD GESTACIÓN</text>
<text class="r" x="621" y="480">ABORTO ESPONTÁNEO</text>
<text class="r" x="621" y="487">EMBARAZO ECTÓPICO</text>
<text class="h2" x="569" y="518">2ª MITAD GESTACIÓN</text>
<text class="r" x="621" y="495">ANOMALÍAS DE IMPLANTACIÓN</text>
<text class="r" x="621" y="503">INFECCIONES</text>
<text class="r" x="621" y="542">PREECLAMPSIA Y ECLAMPSIA</text>
<text class="r" x="673" y="517">PREECLAMPSIA</text>
<rect class="bx" x="705" y="508.7" width="53" height="4.6" rx="2.3"/><text x="707" y="511">Sd. materno: disfunción endotelial</text>
<rect class="bx" x="705" y="516.7" width="42" height="4.6" rx="2.3"/><text class="k" x="707" y="519">HTA, edemas y proteinuria</text>
<text x="706" y="525">2ª mitad de gestación</text><text class="k" x="744" y="525">Sin proteinuria</text>
<text class="r" x="673" y="533">ECLAMPSIA</text>
<rect class="bx" x="701" y="533.7" width="25" height="4.6" rx="2.3"/><text class="k" x="703" y="536">CONVULSIONES</text>
<text x="673" y="551">Patogenia</text>
<text x="698" y="546">Normal</text>
<text x="719" y="544">Trofoblasto → vasos maternos → remodelación</text><text x="719" y="548">(dilatación capa muscular de las arteriolas)</text>
<text class="k" x="698" y="555">EHE</text>
<text x="719" y="551">No remodelación → no llega ↑ placenta → hipoxia</text><text x="719" y="555"><tspan class="k">sFLT1</tspan> → produce disfunción endotelial</text>
<text class="k" x="673" y="567">Histopatología de EHE</text>
<text x="714" y="564">Trombos, necrosis fibrinoide, alteración hepática (sd.</text><text x="714" y="568">HELLP), convulsiones, hemorragias cerebrales</text>
<text class="h" x="525" y="634">TUMORAL</text>
<text class="r" x="561" y="635" font-size="2.4">ENF. TROFOBLÁSTICA DE LA GESTACIÓN</text>
<text x="629" y="577">Proliferación placentaria células trofoblásticas</text>
<text class="r" x="629" y="615">MOLA HIDATIFORME</text>
<rect class="bx" x="669" y="583" width="70" height="10" rx="5"/><text x="673" y="586.2">Proliferación trofoblasto vellositario + dilatación</text><text x="685" y="590.2">quística vellosidades</text>
<text class="k" x="749" y="585">↑ riesgo mola invasiva y coriocarcinoma</text>
<text x="669" y="596">Aborto espontáneo</text><text x="704" y="596">Dx</text>
<rect class="bx" x="719" y="596.7" width="40" height="4.6" rx="2.3"/><text x="721" y="599">Ecografía: <tspan class="k">COPOS DE NIEVE</tspan></text>
<text class="k" x="669" y="616">COMPLETA</text>
<text x="695" y="606">Fecundación óvulo vacío</text><text class="k" x="737" y="606">46XX</text>
<text x="695" y="613">Embrión inexistente desde inicio</text>
<text x="695" y="620">↑ riesgo</text><text class="k" x="716" y="620">Coriocarcinoma y mola invasiva</text>
<text x="695" y="627">Todas vellosidades</text><text x="730" y="627">Prolif. trofoblasto difusa circunferencial</text><text class="k" x="783" y="627">No tejido fetal</text>
<text class="k" x="669" y="645">PARCIAL</text>
<text x="693" y="635">Óvulo fecundado x dos espermatozoides</text><text class="k" x="754" y="635">69XXY o 69XXX</text>
<text x="693" y="641">Desarrollo embrionario inicial</text>
<text x="693" y="649">↓ riesgo</text><text class="k" x="713" y="649">Mola invasiva</text>
<text x="693" y="656">Algunas vellosidades</text><text x="730" y="656">Prolif. trofoblasto focal</text><text class="k" x="772" y="656">Puede haber tejidos fetales</text>
<text class="r" x="629" y="668">MOLA INVASORA</text><text x="663" y="668">Lesión infiltrante</text>
<text x="695" y="665">Invasión miometrio vellosidades <tspan class="k">hidrópicas</tspan></text><text x="761" y="665">Prolif. atípica trofoblasto</text>
<text class="k" x="695" y="671">Invade vasos y metástasis a distancia</text>
<rect class="bx" x="765" y="671.7" width="33" height="4.6" rx="2.3"/><text class="k" x="767" y="674">Embolia, no cáncer</text>
<text x="808" y="671">QT: MTX x cursos</text>
<text class="r" x="629" y="695">CORIOCARCINOMA GESTACIONAL</text>
<text class="k" x="687" y="683">Maligno</text><text x="709" y="683">Cél trofoblásticas de gestación previa</text><text class="k" x="767" y="683">DNA paterno</text>
<text x="687" y="690">Clínica</text><text x="707" y="690">Secreción vaginal sanguinolenta</text>
<rect class="bx" x="758" y="689.7" width="34" height="4.6" rx="2.3"/><text class="k" x="760" y="692">hCG muy elevada</text>
<text x="687" y="699">Alto grado</text><text class="k" x="712" y="699">MT vía hematógena</text><text x="749" y="699">Pulmón, otros</text>
<text x="687" y="705">Tto</text><text x="703" y="705">Evacuación contenido uterino</text><text class="k" x="751" y="705">QT (quimioterapia)</text>
<rect class="bx" x="788" y="706.7" width="40" height="4.6" rx="2.3"/><text class="r" x="790" y="709">CC NO GESTACIONAL</text>
</g>
</svg>
